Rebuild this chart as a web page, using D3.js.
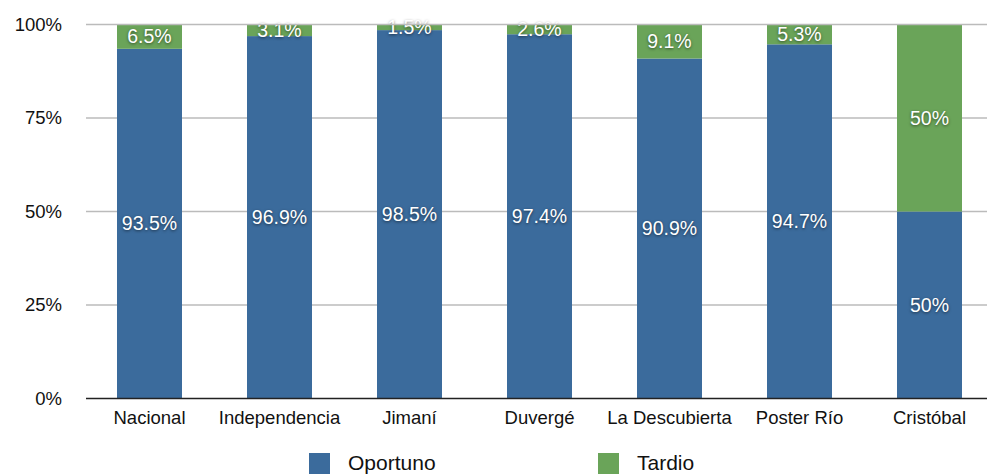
<!DOCTYPE html>
<html>
<head>
<meta charset="utf-8">
<script src="https://cdn.jsdelivr.net/npm/d3@7"></script>
<style>
  body { margin: 0; background: #fff; }
  svg { font-family: "Liberation Sans", Arial, sans-serif; }
  .lbl { fill: #fff; font-size: 19.5px; text-shadow: 0 1px 3px rgba(0,0,0,0.55); }
</style>
</head>
<body>
<div id="chart"></div>
<script>
var categories = ['Nacional', 'Independencia', 'Jimaní', 'Duvergé', 'La Descubierta', 'Poster Río', 'Cristóbal'];
var oportuno = [93.5, 96.9, 98.5, 97.4, 90.9, 94.7, 50];
var tardio = [6.5, 3.1, 1.5, 2.6, 9.1, 5.3, 50];
var seriesNames = ['Oportuno', 'Tardio'];
var yTicks = [0, 25, 50, 75, 100];

var width = 987;
var height = 475;
var color = { Oportuno: '#3b6b9c', Tardio: '#6aa459' };

var svg = d3.select('#chart')
  .append('svg')
  .attr('width', width)
  .attr('height', height);

var x = d3.scaleBand()
  .domain(categories)
  .range([84.5, 994.5])
  .paddingInner(0.5)
  .paddingOuter(0.25);

var y = d3.scaleLinear()
  .domain([0, 100])
  .range([398.5, 24.5]);

// grid lines (100% one goes on top of the bars later)
svg.append('g')
  .selectAll('line')
  .data([25, 50, 75])
  .enter()
  .append('line')
  .attr('x1', 86)
  .attr('x2', width)
  .attr('y1', function(d) { return y(d); })
  .attr('y2', function(d) { return y(d); })
  .attr('stroke', '#bbb')
  .attr('stroke-width', 1.5);

// y labels
svg.append('g')
  .selectAll('text')
  .data(yTicks)
  .enter()
  .append('text')
  .attr('x', 62)
  .attr('y', function(d) { return y(d); })
  .attr('dy', '0.35em')
  .attr('text-anchor', 'end')
  .attr('font-size', 18.5)
  .attr('fill', '#111')
  .text(function(d) { return d + '%'; });

var table = categories.map(function(c, i) {
  return { cat: c, Oportuno: oportuno[i], Tardio: tardio[i] };
});
var stack = d3.stack().keys(seriesNames)(table);

var layers = svg.selectAll('g.layer')
  .data(stack)
  .enter()
  .append('g')
  .attr('class', 'layer')
  .attr('fill', function(d) { return color[d.key]; });

layers.selectAll('rect')
  .data(function(d) { return d; })
  .enter()
  .append('rect')
  .attr('x', function(d) { return x(d.data.cat); })
  .attr('width', x.bandwidth())
  .attr('y', function(d) { return y(d[1]); })
  .attr('height', function(d) { return y(d[0]) - y(d[1]); });

// top line
svg.append('line')
  .attr('x1', 86)
  .attr('x2', width)
  .attr('y1', y(100))
  .attr('y2', y(100))
  .attr('stroke', '#bbb')
  .attr('stroke-width', 1.5);

// value labels
layers.each(function(layer) {
  d3.select(this).selectAll('text')
    .data(layer)
    .enter()
    .append('text')
    .attr('class', 'lbl')
    .attr('x', function(d) { return x(d.data.cat) + x.bandwidth() / 2; })
    .attr('y', function(d) { return (y(d[0]) + y(d[1])) / 2; })
    .attr('dy', '0.35em')
    .attr('text-anchor', 'middle')
    .text(function(d) { return d.data[layer.key] + '%'; });
});

// baseline
svg.append('line')
  .attr('x1', 86)
  .attr('x2', width)
  .attr('y1', y(0))
  .attr('y2', y(0))
  .attr('stroke', '#222')
  .attr('stroke-width', 1.5);

// x labels
svg.append('g')
  .selectAll('text')
  .data(categories)
  .enter()
  .append('text')
  .attr('x', function(d) { return x(d) + x.bandwidth() / 2; })
  .attr('y', 424)
  .attr('text-anchor', 'middle')
  .attr('font-size', 18.5)
  .attr('fill', '#111')
  .text(function(d) { return d; });

// legend
var legend = svg.selectAll('g.legend')
  .data(seriesNames)
  .enter()
  .append('g')
  .attr('class', 'legend')
  .attr('transform', function(d, i) { return 'translate(' + (309 + i * 289) + ',453)'; });

legend.append('rect')
  .attr('width', 21)
  .attr('height', 21)
  .attr('fill', function(d) { return color[d]; });

legend.append('text')
  .attr('x', 39)
  .attr('y', 17)
  .attr('font-size', 21)
  .attr('fill', '#111')
  .text(function(d) { return d; });
</script>
</body>
</html>
